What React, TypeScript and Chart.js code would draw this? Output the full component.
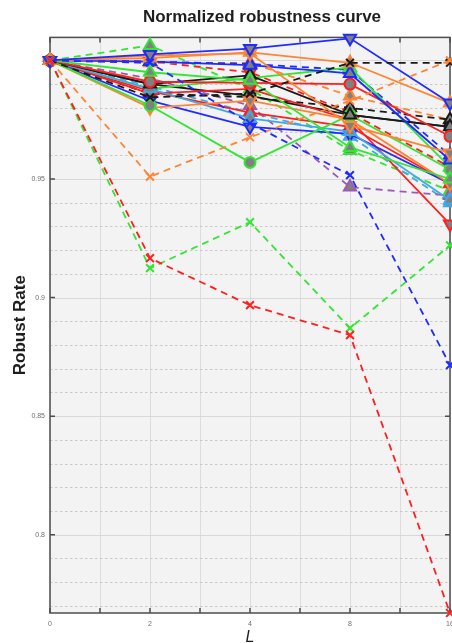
import React, { useEffect, useRef } from "react";
import { Chart, registerables } from "chart.js";

Chart.register(...registerables);

// ---- axis data ----
const L_LABELS = ["0", "2", "4", "8", "16"];
const Y_TICKS = [0.8, 0.85, 0.9, 0.95, 1.0];
const Y_MIN = 0.767;
const Y_MAX = 1.0097;

// ---- series values (robust rate at each L) ----
const blueSolidTriDown = [1, 1.0025, 1.005, 1.0093, 0.982];
const orangeSolidTriUp = [1, 1.001, 1.0034, 0.999, 0.982];
const orangeSolidTriDown = [1, 1.002, 1.003, 0.9726, 0.961];
const greenSolidTriUp = [1, 0.995, 0.9916, 0.9633, 0.95];
const blueSolidTriUp = [1, 0.9995, 0.998, 0.9945, 0.958];
const redSolidCircle = [1, 0.991, 0.9905, 0.99, 0.968];
const blackSolidTriUp = [1, 0.99, 0.9937, 0.977, 0.972];
const greenSolidCircle = [1, 0.981, 0.957, 0.977, 0.954];
const orangeSolidTri2 = [1, 0.98, 0.983, 0.975, 0.948];
const lightBlueSolidTri = [1, 0.988, 0.9756, 0.97, 0.941];
const blueSolidTri2 = [1, 0.983, 0.972, 0.969, 0.948];
const redSolidTriDown = [1, 0.986, 0.988, 0.975, 0.931];
const greenSolidTri2 = [1, 0.988, 0.9925, 0.997, 0.955];
const blackSolidCircle = [1, 0.99, 0.985, 0.977, 0.972];
const redSolidTriUp = [1, 0.987, 0.978, 0.972, 0.948];

const redDashedX = [1, 0.9166, 0.8968, 0.8842, 0.767];
const greenDashedX = [1, 0.9124, 0.9318, 0.8871, 0.922];
const blueDashedX = [1, 0.999, 0.9735, 0.9516, 0.8715];
const orangeDashedX = [1, 0.951, 0.9676, 0.983, 1.0];
const blackDashedX = [1, 0.9844, 0.986, 0.999, 0.999];
const blackDashedTri = [1, 0.986, 0.9845, 0.98, 0.975];
const purpleDashedTri = [1, 0.9924, 0.981, 0.9466, 0.943];
const lightBlueDashedTri = [1, 0.989, 0.978, 0.968, 0.94];
const greenDashedTri = [1, 1.0063, 0.988, 0.962, 0.945];
const blueDashedTri = [1, 0.9995, 0.9985, 0.996, 0.96];
const orangeDashedTri = [1, 0.999, 0.999, 0.985, 0.975];
const redDashedTri = [1, 0.9995, 0.995, 0.978, 0.955];

// ---- styles ----
const BLUE = "#1f2cff";
const ORANGE = "#ff8533";
const GREEN = "#33e633";
const RED = "#ff1f1f";
const BLACK = "#1a1a1a";
const PURPLE = "#9c5bb0";
const LBLUE = "#3fa9e8";
const GREY = "#808080";

type Spec = { data: number[]; color: string; dashed: boolean; marker: string };

const SERIES: Spec[] = [
  { data: redDashedX, color: RED, dashed: true, marker: "x" },
  { data: greenDashedX, color: GREEN, dashed: true, marker: "x" },
  { data: blueDashedX, color: BLUE, dashed: true, marker: "x" },
  { data: orangeDashedX, color: ORANGE, dashed: true, marker: "x" },
  { data: blackDashedX, color: BLACK, dashed: true, marker: "x" },
  { data: blueSolidTriDown, color: BLUE, dashed: false, marker: "down" },
  { data: orangeSolidTriUp, color: ORANGE, dashed: false, marker: "up" },
  { data: orangeSolidTriDown, color: ORANGE, dashed: false, marker: "down" },
  { data: greenSolidTriUp, color: GREEN, dashed: false, marker: "up" },
  { data: blueSolidTriUp, color: BLUE, dashed: false, marker: "up" },
  { data: redSolidCircle, color: RED, dashed: false, marker: "circle" },
  { data: blackSolidTriUp, color: BLACK, dashed: false, marker: "up" },
  { data: greenSolidCircle, color: GREEN, dashed: false, marker: "circle" },
  { data: orangeSolidTri2, color: ORANGE, dashed: false, marker: "down" },
  { data: lightBlueSolidTri, color: LBLUE, dashed: false, marker: "up" },
  { data: blueSolidTri2, color: BLUE, dashed: false, marker: "down" },
  { data: redSolidTriDown, color: RED, dashed: false, marker: "down" },
  { data: greenSolidTri2, color: GREEN, dashed: false, marker: "up" },
  { data: blackSolidCircle, color: BLACK, dashed: false, marker: "circle" },
  { data: redSolidTriUp, color: RED, dashed: false, marker: "up" },
  { data: blackDashedTri, color: BLACK, dashed: true, marker: "up" },
  { data: purpleDashedTri, color: PURPLE, dashed: true, marker: "up" },
  { data: lightBlueDashedTri, color: LBLUE, dashed: true, marker: "up" },
  { data: greenDashedTri, color: GREEN, dashed: true, marker: "up" },
  { data: blueDashedTri, color: BLUE, dashed: true, marker: "up" },
  { data: orangeDashedTri, color: ORANGE, dashed: true, marker: "up" },
  { data: redDashedTri, color: RED, dashed: true, marker: "down" },
];

const FONT = "'Liberation Sans', Arial, Helvetica, sans-serif";

const gridPlugin = {
  id: "matlabGrid",
  beforeDatasetsDraw(chart: any) {
    const { ctx, chartArea: a, scales } = chart;
    const x = scales.x;
    const y = scales.y;
    ctx.save();
    ctx.fillStyle = "#f3f3f3";
    ctx.fillRect(a.left, a.top, a.right - a.left, a.bottom - a.top);

    ctx.lineWidth = 1;
    ctx.strokeStyle = "#dcdcdc";
    ctx.setLineDash([]);
    for (let k = 0; k <= (L_LABELS.length - 1) * 2; k++) {
      const px = Math.round(x.getPixelForValue(k / 2)) + 0.5;
      ctx.beginPath();
      ctx.moveTo(px, a.top);
      ctx.lineTo(px, a.bottom);
      ctx.stroke();
    }
    const kMin = Math.ceil(Y_MIN * 100);
    const kMax = Math.floor(Y_MAX * 100);
    for (let k = kMin; k <= kMax; k++) {
      const major = k % 5 === 0;
      const py = Math.round(y.getPixelForValue(k / 100)) + 0.5;
      ctx.strokeStyle = major ? "#d8d8d8" : "#c9c9c9";
      ctx.setLineDash(major ? [] : [2.5, 2.5]);
      ctx.beginPath();
      ctx.moveTo(a.left, py);
      ctx.lineTo(a.right, py);
      ctx.stroke();
    }
    ctx.setLineDash([]);
    ctx.strokeStyle = "#4d4d4d";
    ctx.lineWidth = 1.5;
    ctx.strokeRect(a.left, a.top, a.right - a.left, a.bottom - a.top);
    const tl = 5;
    for (let k = 0; k <= (L_LABELS.length - 1) * 2; k++) {
      const px = x.getPixelForValue(k / 2);
      ctx.beginPath();
      ctx.moveTo(px, a.bottom);
      ctx.lineTo(px, a.bottom - tl);
      ctx.moveTo(px, a.top);
      ctx.lineTo(px, a.top + tl);
      ctx.stroke();
    }
    for (const v of Y_TICKS) {
      const py = y.getPixelForValue(v);
      ctx.beginPath();
      ctx.moveTo(a.left, py);
      ctx.lineTo(a.left + tl, py);
      ctx.moveTo(a.right, py);
      ctx.lineTo(a.right - tl, py);
      ctx.stroke();
    }
    ctx.restore();
  },
};

export default function App() {
  const ref = useRef<HTMLCanvasElement | null>(null);

  useEffect(() => {
    const canvas = ref.current;
    if (!canvas) return;
    const datasets = SERIES.map((s) => ({
      data: s.data.map((v, i) => ({ x: i, y: v })),
      borderColor: s.color,
      backgroundColor: s.color,
      borderWidth: 1.8,
      borderDash: s.dashed ? [7, 5] : [],
      pointStyle: s.marker === "x" ? "crossRot" : s.marker === "circle" ? "circle" : "triangle",
      pointRotation: s.marker === "down" ? 180 : 0,
      pointRadius: s.marker === "x" ? 5.5 : s.marker === "circle" ? 5.5 : 7,
      pointBorderWidth: 2,
      pointBorderColor: s.color,
      pointBackgroundColor: s.marker === "x" ? s.color : GREY,
      tension: 0,
      clip: false as any,
    }));

    const chart = new Chart(canvas, {
      type: "line",
      data: { datasets },
      plugins: [gridPlugin],
      options: {
        animation: false,
        responsive: false,
        devicePixelRatio: 1,
        layout: { padding: 0 },
        plugins: {
          legend: { display: false },
          tooltip: { enabled: false },
          title: {
            display: true,
            text: "Normalized robustness curve",
            color: "#1e1e1e",
            font: { family: FONT, size: 17, weight: "bold", lineHeight: 1.2 },
            padding: { top: 7, bottom: 10 },
          },
        },
        scales: {
          x: {
            type: "linear",
            min: 0,
            max: L_LABELS.length - 1,
            afterBuildTicks: (s: any) => {
              s.ticks = L_LABELS.map((_, i) => ({ value: i }));
            },
            afterFit: (s: any) => {
              s.height = 30;
            },
            ticks: {
              callback: (v: any) => L_LABELS[Math.round(Number(v))] ?? "",
              color: "#6e6e6e",
              font: { family: FONT, size: 7 },
              padding: 7,
              maxRotation: 0,
              autoSkip: false,
            },
            grid: { display: false, drawTicks: false },
            border: { display: false },
            title: {
              display: true,
              text: "L",
              color: "#1e1e1e",
              font: { family: FONT, size: 16, style: "italic", lineHeight: 1 },
              padding: { top: 0, bottom: -3 },
            },
          },
          y: {
            type: "linear",
            min: Y_MIN,
            max: Y_MAX,
            afterBuildTicks: (s: any) => {
              s.ticks = Y_TICKS.map((v) => ({ value: v }));
            },
            afterFit: (s: any) => {
              s.width = 50;
            },
            ticks: {
              callback: (v: any) => String(+Number(v).toFixed(2)),
              color: "#6e6e6e",
              font: { family: FONT, size: 7 },
              padding: 5,
              autoSkip: false,
            },
            grid: { display: false, drawTicks: false },
            border: { display: false },
            title: {
              display: true,
              text: "Robust Rate",
              color: "#1e1e1e",
              font: { family: FONT, size: 17, weight: "bold", lineHeight: 1.2 },
              padding: { top: 10, bottom: 0 },
            },
          },
          yRight: {
            type: "linear",
            position: "right",
            min: Y_MIN,
            max: Y_MAX,
            afterFit: (s: any) => {
              s.width = 74;
            },
            ticks: { display: false },
            grid: { display: false, drawTicks: false },
            border: { display: false },
          },
        },
      } as any,
    });
    return () => chart.destroy();
  }, []);

  return (
    <div
      style={{
        position: "fixed",
        left: 0,
        top: 0,
        width: 452,
        height: 643,
        overflow: "hidden",
        background: "#ffffff",
      }}
    >
      <canvas ref={ref} width={524} height={643} style={{ width: 524, height: 643, display: "block" }} />
    </div>
  );
}
